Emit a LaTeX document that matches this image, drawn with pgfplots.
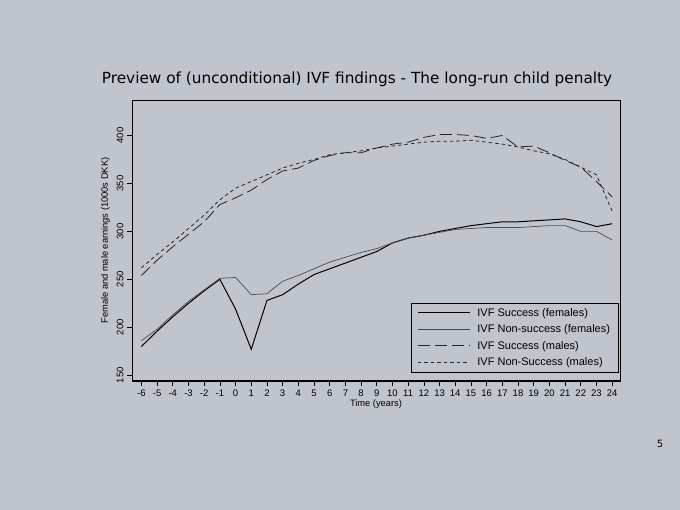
\documentclass[border=0pt]{standalone}
\usepackage{fontspec}
\usepackage{pgfplots}
\pgfplotsset{compat=1.18}
\usepackage{pgfplotstable}
\newfontfamily\arial{Liberation Sans}
\newfontfamily\titlefont{DejaVu Sans}
\definecolor{bg}{RGB}{192,196,204}

\pgfplotstableread{
t SF NF SM NM
-6 180 186 254 262
-5 196 198 270 276
-4 211 213 284 289
-3 225 227 297 303
-2 238 239 310 317
-1 250 251 328 333
0 219 252 335 345
1 177 234 343 352
2 228 235 354 359
3 234 248 363 366
4 245 254 366 371
5 255 261 374 375
6 261 268 379 380
7 267 273 382 382
8 273 278 382 384
9 279 282 387 387
10 288 288 391 389
11 293 293 393 391
12 296 296 398 393
13 300 299 401 394
14 303 302 401 394
15 306 303 400 395
16 308 304 397 393
17 310 304 400 391
18 310 304 388 388
19 311 305 389 384
20 312 306 382 381
21 313 306 374 375
22 310 300 367 367
23 305 300 352 359
24 308 291 336 321
}\data

\begin{document}
\begin{tikzpicture}
\fill[bg] (0,0) rectangle (680pt,510pt);
\node[anchor=base, font=\titlefont\fontsize{15.3}{17}\selectfont] at (357pt,426pt) {Preview of (unconditional) IVF findings - The long-run child penalty};
\node[font=\titlefont\fontsize{10}{12}\selectfont] at (660pt,66pt) {5};
\begin{axis}[at={(132pt,129pt)}, anchor=south west, width=488pt, height=281pt, scale only axis,
 xmin=-6.6, xmax=24.5, ymin=144, ymax=437,
 xtick={-6,...,24}, ytick={150,200,...,400},
 tick align=outside, xtick pos=bottom, ytick pos=left, major tick length=5pt,
 tick style={black, line width=0.6pt},
 axis line style={black, line width=0.6pt},
 /pgf/number format/assume math mode=true,
 ticklabel style={font=\arial\fontsize{9.5}{11}\selectfont},
 yticklabel style={rotate=90, anchor=south},
 xlabel={Time (years)}, ylabel={Female and male earnings (1000s DKK)},
 xlabel style={font=\arial\fontsize{9.3}{11}\selectfont, yshift=3pt},
 ylabel style={font=\arial\fontsize{9.3}{11}\selectfont},
 legend style={at={(0.997,0.03)}, anchor=south east, draw=black, line width=1pt, fill=none,
   font=\arial\fontsize{11}{13}\selectfont, inner xsep=6pt, inner ysep=3pt, row sep=3pt},
 legend cell align=left,
 legend image code/.code={\draw[#1] (0pt,0pt) -- (52pt,0pt); \path (57pt,0pt);},
]
\addplot[black, line width=1pt] table[x=t,y=SF]{\data};
\addlegendentry{IVF Success (females)}
\addplot[black!70, line width=0.7pt] table[x=t,y=NF]{\data};
\addlegendentry{IVF Non-success (females)}
\addplot[black!85, line width=0.8pt, dash pattern=on 12pt off 5pt] table[x=t,y=SM]{\data};
\addlegendentry{IVF Success (males)}
\addplot[black!85, line width=0.8pt, dash pattern=on 3.5pt off 3pt] table[x=t,y=NM]{\data};
\addlegendentry{IVF Non-Success (males)}
\draw[line width=1.3pt] (rel axis cs:0,1) -- (rel axis cs:0,0) -- (rel axis cs:1,0);
\end{axis}
\end{tikzpicture}
\end{document}
